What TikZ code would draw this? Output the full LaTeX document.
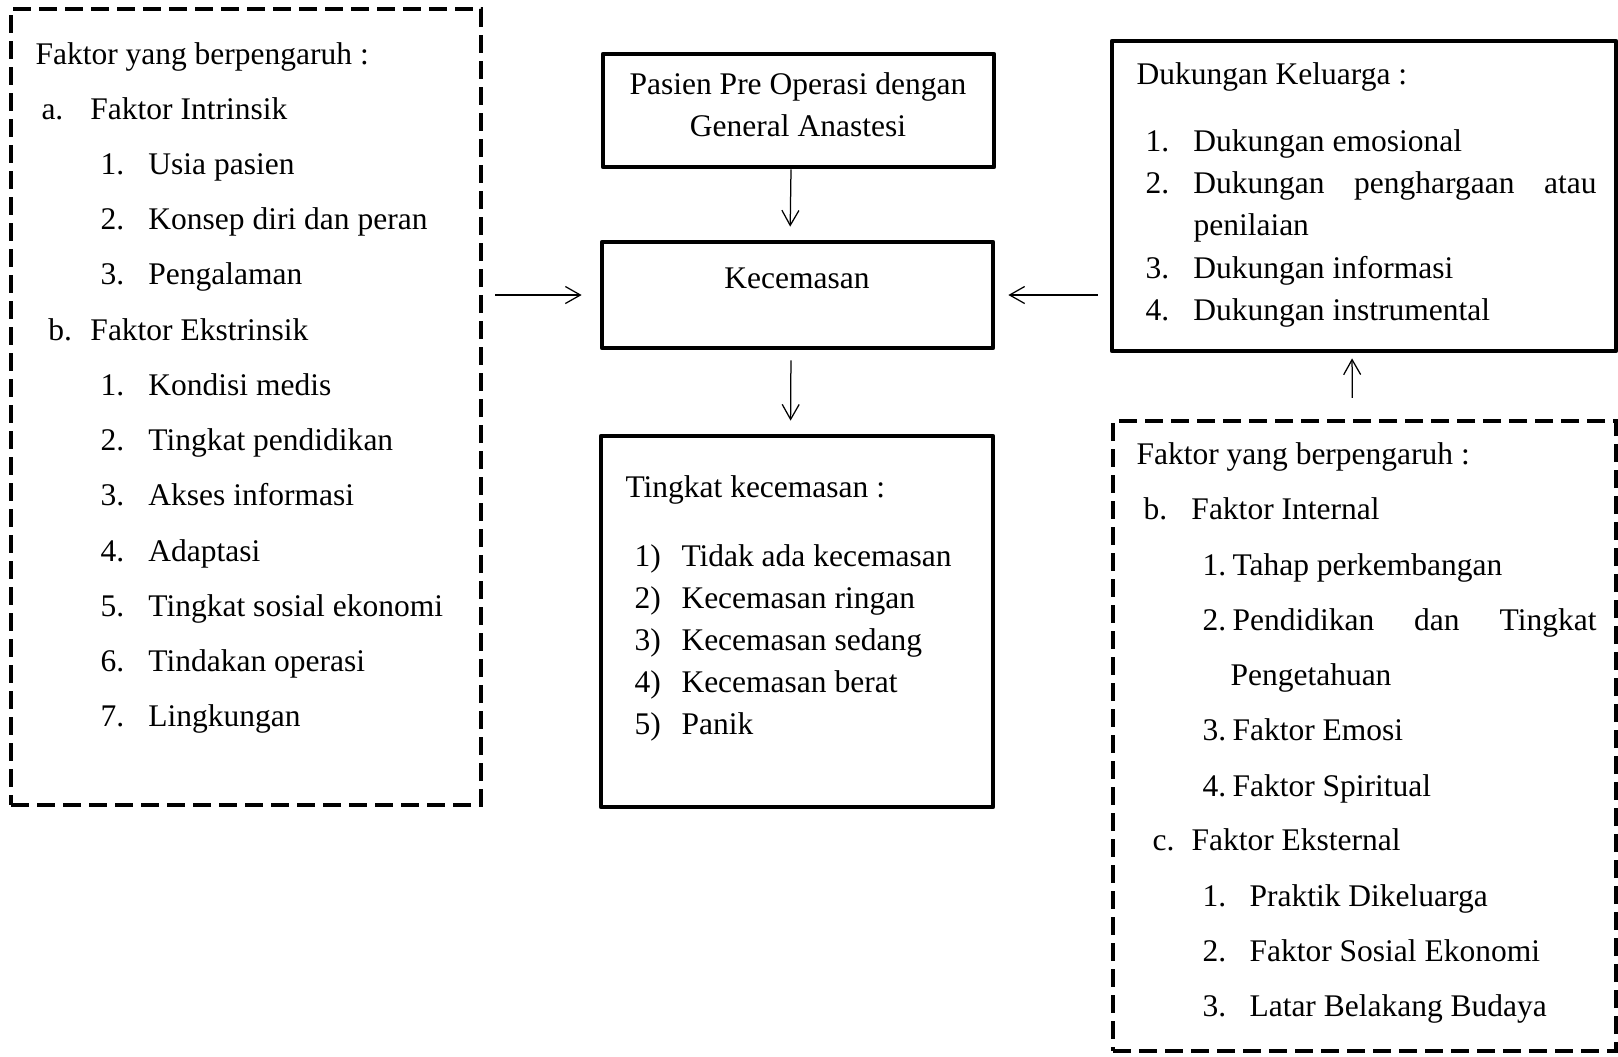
\documentclass[tikz,border=0pt]{standalone}
\usepackage{fontspec}
\setmainfont{Liberation Serif}
\usetikzlibrary{arrows.meta,fit}
\begin{document}
\begin{tikzpicture}[x=0.4pt,y=-0.4pt,
  solidbox/.style={draw,line width=1.9pt,line join=round,inner sep=0pt},
  dashbox/.style={draw,line width=1.8pt,dash pattern=on 7.2pt off 3.2pt,inner sep=0pt},
  txt/.style={anchor=base west,inner sep=0pt,font=\fontsize{12.6}{15}\selectfont},
  ctxt/.style={anchor=base,inner sep=0pt,font=\fontsize{12.6}{15}\selectfont},
  arr/.style={line width=0.5pt,-{Straight Barb[length=6pt,width=6.8pt,line width=0.5pt]}}]
\useasboundingbox (0,0) rectangle (1618,1056);
% boxes
\node[dashbox,fit={(11,9) (481,805)}] (left) {};
\node[solidbox,fit={(603,54) (994,167)}] (pasien) {};
\node[solidbox,fit={(602,242) (993,348)}] (kec) {};
\node[solidbox,fit={(601,436) (993,807)}] (tingkat) {};
\node[solidbox,fit={(1112,41) (1616,351)}] (duk) {};
\node[dashbox,fit={(1113,421) (1616,1051)}] (rdash) {};
% left texts
\node[txt] (L0) at (35,64) {Faktor yang berpengaruh :};
\node[txt] (L1) at (41,119) {\makebox[19.6pt][l]{a.}Faktor Intrinsik};
\node[txt] (L2) at (100,174) {\makebox[19.2pt][l]{1.}Usia pasien};
\node[txt] (L3) at (100,229) {\makebox[19.2pt][l]{2.}Konsep diri dan peran};
\node[txt] (L4) at (100,284) {\makebox[19.2pt][l]{3.}Pengalaman};
\node[txt] (L5) at (48,340) {\makebox[16.8pt][l]{b.}Faktor Ekstrinsik};
\node[txt] (L6) at (100,395) {\makebox[19.2pt][l]{1.}Kondisi medis};
\node[txt] (L7) at (100,450) {\makebox[19.2pt][l]{2.}Tingkat pendidikan};
\node[txt] (L8) at (100,505) {\makebox[19.2pt][l]{3.}Akses informasi};
\node[txt] (L9) at (100,561) {\makebox[19.2pt][l]{4.}Adaptasi};
\node[txt] (L10) at (100,616) {\makebox[19.2pt][l]{5.}Tingkat sosial ekonomi};
\node[txt] (L11) at (100,671) {\makebox[19.2pt][l]{6.}Tindakan operasi};
\node[txt] (L12) at (100,726) {\makebox[19.2pt][l]{7.}Lingkungan};
% center texts
\node[ctxt] (P1) at (798,94) {Pasien Pre Operasi dengan};
\node[ctxt] (P2) at (798,136) {General Anastesi};
\node[ctxt] (K1) at (797,288) {Kecemasan};
\node[txt] (T0) at (625,497) {Tingkat kecemasan :};
\node[txt] (T1) at (634,566) {\makebox[18.8pt][l]{1)}Tidak ada kecemasan};
\node[txt] (T2) at (634,608) {\makebox[18.8pt][l]{2)}Kecemasan ringan};
\node[txt] (T3) at (634,650) {\makebox[18.8pt][l]{3)}Kecemasan sedang};
\node[txt] (T4) at (634,692) {\makebox[18.8pt][l]{4)}Kecemasan berat};
\node[txt] (T5) at (634,734) {\makebox[18.8pt][l]{5)}Panik};
% dukungan texts
\node[txt] (D0) at (1136,84) {Dukungan Keluarga :};
\node[txt] (D1) at (1145,151) {\makebox[19.2pt][l]{1.}Dukungan emosional};
\node[txt] (D2) at (1145,193) {\makebox[19.2pt][l]{2.}\makebox[161.2pt][s]{Dukungan penghargaan atau}};
\node[txt] (D2b) at (1193,235) {penilaian};
\node[txt] (D3) at (1145,278) {\makebox[19.2pt][l]{3.}Dukungan informasi};
\node[txt] (D4) at (1145,320) {\makebox[19.2pt][l]{4.}Dukungan instrumental};
% right dashed texts
\node[txt] (R0) at (1136,464) {Faktor yang berpengaruh :};
\node[txt] (R1) at (1143,519) {\makebox[19.2pt][l]{b.}Faktor Internal};
\node[txt] (R2) at (1202,575) {\makebox[12pt][l]{1.}Tahap perkembangan};
\node[txt] (R3) at (1202,630) {\makebox[12pt][l]{2.}\makebox[145.6pt][s]{Pendidikan dan Tingkat}};
\node[txt] (R3b) at (1230,685) {Pengetahuan};
\node[txt] (R4) at (1202,740) {\makebox[12pt][l]{3.}Faktor Emosi};
\node[txt] (R5) at (1202,796) {\makebox[12pt][l]{4.}Faktor Spiritual};
\node[txt] (R6) at (1152,850) {\makebox[15.6pt][l]{c.}Faktor Eksternal};
\node[txt] (R7) at (1202,906) {\makebox[18.8pt][l]{1.}Praktik Dikeluarga};
\node[txt] (R8) at (1202,961) {\makebox[18.8pt][l]{2.}Faktor Sosial Ekonomi};
\node[txt] (R9) at (1202,1016) {\makebox[18.8pt][l]{3.}Latar Belakang Budaya};
% connectors
\draw[arr,shorten >=5.2pt] ([xshift=-3pt]pasien.south) -- ([xshift=-3pt]kec.north);
\draw[arr,shorten <=4pt,shorten >=5.2pt] ([xshift=-2.6pt]kec.south) -- ([xshift=-2.6pt]tingkat.north);
\draw[arr,shorten <=4.8pt,shorten >=7.2pt] (left.east |- kec.west) -- (kec.west);
\draw[arr,shorten <=4.8pt,shorten >=5.2pt] (duk.west |- kec.east) -- (kec.east);
\draw[arr,shorten <=8.4pt,shorten >=2pt] ([xshift=-4.8pt]rdash.north) -- ([xshift=-4.8pt]duk.south);
\end{tikzpicture}
\end{document}
